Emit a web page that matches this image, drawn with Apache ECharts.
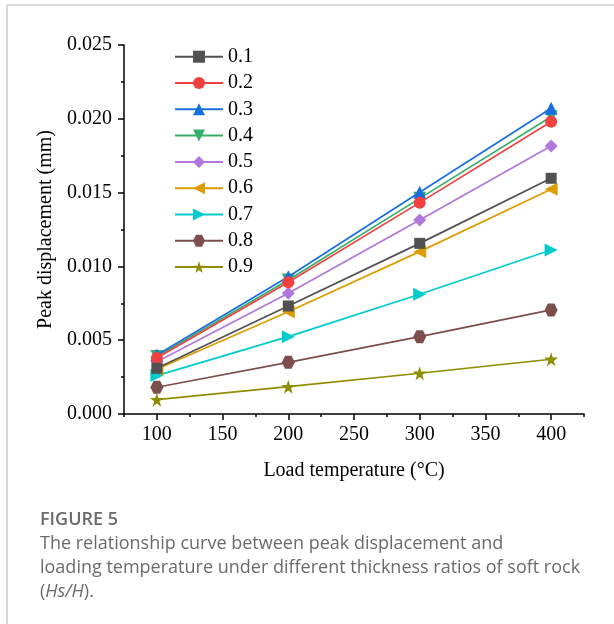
<!DOCTYPE html>
<html>
<head>
<meta charset="utf-8">
<script src="https://cdn.jsdelivr.net/npm/echarts@6/dist/echarts.min.js"></script>
<style>
html,body{margin:0;padding:0;background:#fff;}
#chart{width:614px;height:624px;}
</style>
</head>
<body>
<div id="chart"></div>
<script>
// ---- data ----
const temperatures = [100, 200, 300, 400];
const ratioNames = ['0.1','0.2','0.3','0.4','0.5','0.6','0.7','0.8','0.9'];
const r01 = [0.00310, 0.00732, 0.01156, 0.01597];
const r02 = [0.00380, 0.00892, 0.01432, 0.01980];
const r03 = [0.00400, 0.00930, 0.01502, 0.02071];
const r04 = [0.00390, 0.00908, 0.01461, 0.02014];
const r05 = [0.00354, 0.00818, 0.01314, 0.01816];
const r06 = [0.00303, 0.00693, 0.01100, 0.01522];
const r07 = [0.00260, 0.00524, 0.00811, 0.01111];
const r08 = [0.00181, 0.00350, 0.00524, 0.00705];
const r09 = [0.00097, 0.00185, 0.00276, 0.00371];
const xMajorTicks = [100, 150, 200, 250, 300, 350, 400];
const xMinorTicks = [75, 125, 175, 225, 275, 325, 375, 425];

const seriesValues = [r01, r02, r03, r04, r05, r06, r07, r08, r09];
const colors = ['#515151','#F14040','#1A6FDF','#37AD6B','#B177DE','#DB9D00','#00CBCC','#7D4E4E','#8E8E00'];
const hexagon = 'path://M-1,0 L-0.5,-0.866 L0.5,-0.866 L1,0 L0.5,0.866 L-0.5,0.866 Z';
const star = 'path://M0,-1 L0.2245,-0.309 L0.951,-0.309 L0.363,0.118 L0.588,0.809 L0,0.382 L-0.588,0.809 L-0.363,0.118 L-0.951,-0.309 L-0.2245,-0.309 Z';
const symbols = ['rect','circle','triangle','triangle','diamond','triangle','triangle',hexagon,star];
const rotates = [0,0,0,180,0,90,-90,0,0];
const sizes = [11,12,13,13,13,13,13,13,14];

const serif = '"Liberation Serif", "Times New Roman", serif';
const sans = '"Open Sans", "Noto Sans", sans-serif';
const capColor = '#6b6b6b';

const series = seriesValues.map((vals, i) => ({
  name: ratioNames[i],
  type: 'line',
  xAxisIndex: 0,
  data: temperatures.map((t, j) => [t, vals[j]]),
  symbol: symbols[i],
  symbolRotate: rotates[i],
  symbolSize: sizes[i],
  showAllSymbol: true,
  color: colors[i],
  lineStyle: {width: 1.7, color: colors[i]},
  itemStyle: {color: colors[i]},
  z: 10 - i
}));

const chart = echarts.init(document.getElementById('chart'), null, {renderer: 'canvas'});
chart.setOption({
  animation: false,
  backgroundColor: '#fff',
  grid: {left: 124, right: 30, top: 45, bottom: 210, containLabel: false},
  legend: {
    orient: 'vertical',
    left: 174,
    top: 46.7,
    padding: 0,
    itemWidth: 48,
    itemHeight: 15,
    itemGap: 6.3,
    data: ratioNames,
    textStyle: {fontFamily: serif, fontSize: 20, color: '#000', lineHeight: 20}
  },
  xAxis: [{
    type: 'value',
    min: 75, max: 425,
    position: 'bottom',
    name: 'Load temperature (\u00B0C)',
    nameLocation: 'middle',
    nameGap: 47,
    nameTextStyle: {fontFamily: serif, fontSize: 20, color: '#000'},
    axisLine: {show: true, onZero: false, lineStyle: {color: '#000', width: 1.5}},
    axisTick: {show: true, inside: false, length: 6, customValues: xMajorTicks, lineStyle: {color: '#000', width: 1.5}},
    axisLabel: {show: true, customValues: xMajorTicks, margin: 11, fontFamily: serif, fontSize: 20, color: '#000'},
    splitLine: {show: false}
  }, {
    type: 'value',
    min: 75, max: 425,
    position: 'bottom',
    axisLine: {show: false},
    axisTick: {show: true, inside: false, length: 3, customValues: xMinorTicks, lineStyle: {color: '#000', width: 1.5}},
    axisLabel: {show: false},
    splitLine: {show: false}
  }],
  yAxis: {
    type: 'value',
    min: 0, max: 0.025, interval: 0.005,
    name: 'Peak displacement (mm)',
    nameLocation: 'middle',
    nameGap: 65,
    nameRotate: 90,
    nameTextStyle: {fontFamily: serif, fontSize: 20, color: '#000'},
    axisLine: {show: true, onZero: false, lineStyle: {color: '#000', width: 1.5}},
    axisTick: {show: true, inside: false, length: 6, lineStyle: {color: '#000', width: 1.5}},
    minorTick: {show: true, splitNumber: 2, length: 3, lineStyle: {color: '#000', width: 1.5}},
    axisLabel: {margin: 12, fontFamily: serif, fontSize: 20, color: '#000', formatter: v => v.toFixed(3)},
    splitLine: {show: false}
  },
  graphic: [
    {type: 'line', shape: {x1: 7, y1: 5, x2: 614, y2: 5}, style: {stroke: '#d9d9d9', lineWidth: 2}},
    {type: 'line', shape: {x1: 7, y1: 5, x2: 7, y2: 624}, style: {stroke: '#d9d9d9', lineWidth: 2}},
    {type: 'text', left: 40, top: 511, style: {text: 'FIGURE 5', fontFamily: sans, fontSize: 18, fontWeight: 600, fill: capColor}},
    {type: 'text', left: 40, top: 535, style: {text: 'The relationship curve between peak displacement and', fontFamily: sans, fontSize: 18, fill: capColor}},
    {type: 'text', left: 40, top: 559, style: {text: 'loading temperature under different thickness ratios of soft rock', fontFamily: sans, fontSize: 18, fill: capColor}},
    {type: 'text', left: 40, top: 583, style: {rich: {n: {fontFamily: sans, fontSize: 18, fill: capColor}, i: {fontFamily: sans, fontSize: 18, fontStyle: 'italic', fill: capColor}}, text: '{n|(}{i|Hs/H}{n|).}'}}
  ],
  series: series
});
</script>
</body>
</html>
